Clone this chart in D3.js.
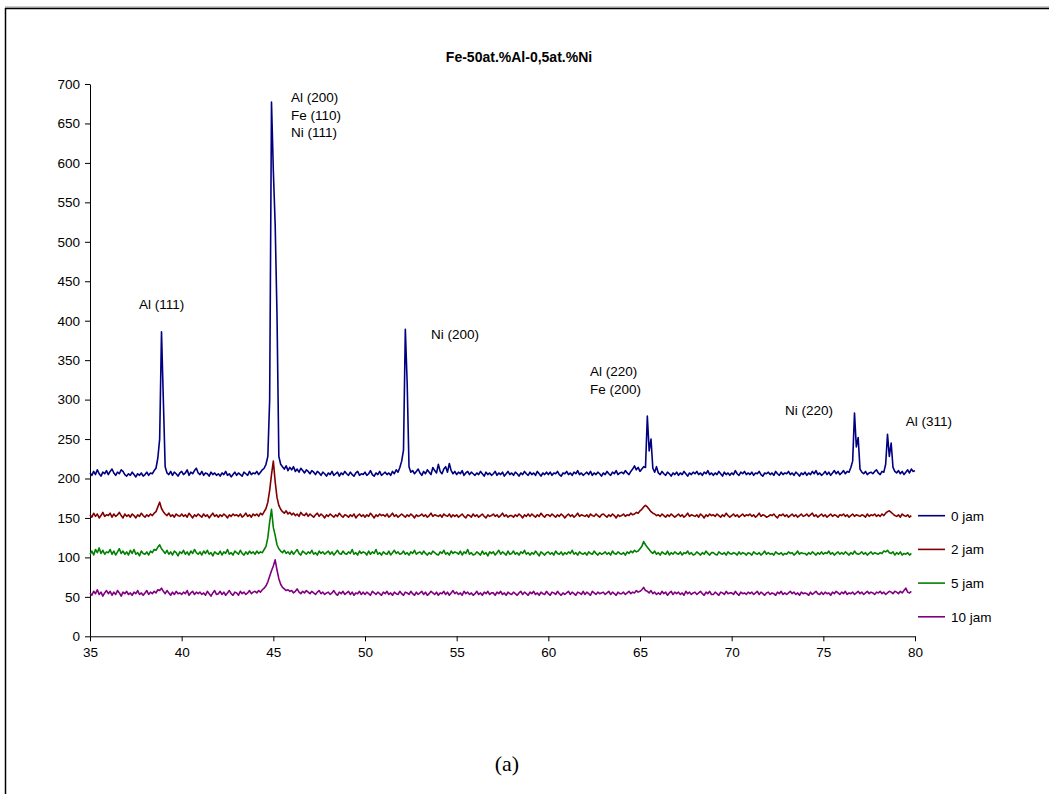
<!DOCTYPE html>
<html>
<head>
<meta charset="utf-8">
<script src="https://cdn.jsdelivr.net/npm/d3@7"></script>
<style>
body{margin:0;background:#fff;}
</style>
</head>
<body>
<script>
// ---- data (2-theta grid 35.0 .. 80.0, step 0.1) ----
const thetaStart = 35, thetaStep = 0.1;
const xTicks = [35,40,45,50,55,60,65,70,75,80];
const yTicks = [0,50,100,150,200,250,300,350,400,450,500,550,600,650,700];
const seriesNames = ["0 jam","2 jam","5 jam","10 jam"];
const seriesColors = ["#000080","#800000","#008000","#800080"];
const chartTitle = "Fe-50at.%Al-0,5at.%Ni";
const peakLabels = [
  {t:"Al (111)", x:37.67, y:415},
  {t:"Al (200)", x:45.96, y:677},
  {t:"Fe (110)", x:45.96, y:655},
  {t:"Ni (111)", x:45.96, y:633},
  {t:"Ni (200)", x:53.6, y:377},
  {t:"Al (220)", x:62.27, y:330},
  {t:"Fe (200)", x:62.27, y:307},
  {t:"Ni (220)", x:72.91, y:280},
  {t:"Al (311)", x:79.5, y:267}
];

const jam0 = [
207,204,209,205,211,206,203,208,206,210,
205,209,212,207,204,208,206,211,209,205,
203,206,204,208,205,202,206,204,207,203,
205,208,204,207,206,210,213,226,250,386,
300,215,207,205,209,204,208,206,203,207,
209,205,207,211,204,208,206,210,213,207,
205,209,204,207,206,203,208,205,207,204,
206,203,207,205,209,204,206,202,205,208,
204,207,205,203,208,206,204,209,205,207,
206,209,205,208,211,213,218,228,300,677,
590,522,408,228,218,215,212,216,210,214,
211,215,209,212,208,213,210,207,211,209,
206,210,208,205,209,207,204,208,206,203,
207,205,209,204,206,208,203,207,205,209,
206,204,208,205,203,207,209,204,206,205,
208,204,206,210,205,203,207,205,209,204,
206,208,205,207,204,209,206,211,208,214,
222,236,389,321,215,208,210,206,209,212,
207,204,209,206,211,208,205,214,210,207,
218,209,206,212,215,208,219,210,206,209,
205,208,206,210,204,207,209,205,208,206,
204,207,205,209,206,203,208,205,207,204,
206,209,204,207,205,208,203,206,209,205,
207,204,208,206,203,207,205,209,206,204,
208,205,207,204,209,206,203,207,205,208,
205,208,204,207,206,209,205,203,207,206,
209,205,207,204,208,206,210,205,207,204,
206,208,205,209,204,207,205,208,206,203,
207,205,209,206,204,208,206,210,205,207,
208,206,210,207,205,209,212,216,211,214,
209,212,215,214,279,235,250,213,208,215,
207,205,209,206,204,208,206,203,207,205,
208,204,207,205,209,206,203,207,205,208,
206,209,205,207,204,208,206,210,205,207,
204,207,205,209,206,203,208,205,207,204,
207,205,210,206,204,208,206,209,205,207,
205,208,204,207,206,209,205,203,207,206,
208,205,207,204,209,206,204,208,205,207,
206,209,205,207,204,208,206,203,207,205,
208,204,207,205,209,206,210,205,207,204,
206,209,205,208,204,207,210,206,209,205,
207,210,206,209,208,214,222,283,240,252,
212,208,206,209,205,207,208,206,209,211,
207,205,209,208,218,256,228,245,214,209,
207,210,206,209,205,208,211,207,212,209,
210];

const jam2 = [
154,151,156,152,155,150,153,157,152,154,
153,156,151,155,152,154,157,153,150,155,
152,154,151,155,153,150,154,152,156,153,
151,154,152,155,153,156,158,164,170,162,
158,155,153,156,152,154,151,155,153,152,
155,152,154,151,156,153,150,154,152,155,
153,151,155,152,154,150,153,156,152,154,
151,154,152,155,153,150,154,152,155,153,
154,152,155,151,153,156,152,154,151,155,
153,155,152,156,154,158,162,170,185,205,
222,196,176,166,161,158,156,159,155,157,
154,156,153,155,152,157,154,153,156,152,
155,153,151,154,156,152,155,153,150,154,
152,155,153,151,154,152,156,153,151,154,
153,151,154,152,155,150,153,155,152,154,
151,154,152,156,153,150,154,152,155,153,
154,152,155,151,153,156,152,154,151,153,
155,153,151,154,152,155,153,150,154,152,
153,155,152,154,151,153,156,152,154,153,
152,154,151,155,153,152,155,151,154,152,
154,151,153,155,152,150,154,153,151,155,
152,154,151,153,155,152,150,154,152,153,
155,152,154,151,153,156,152,154,151,153,
153,151,154,152,155,153,150,154,152,155,
152,155,153,151,154,152,156,153,151,154,
154,152,155,153,151,154,152,155,153,150,
153,155,152,154,151,153,156,152,154,153,
152,154,151,155,153,152,155,153,151,154,
155,153,151,154,152,155,153,150,154,152,
153,155,152,154,153,156,154,155,157,156,
159,161,164,166,164,161,158,156,155,153,
154,152,155,153,151,154,152,155,153,151,
153,155,152,154,151,153,156,152,154,153,
152,154,151,155,153,150,154,152,155,153,
154,152,155,153,151,154,152,156,153,151,
153,155,152,154,151,153,155,152,154,153,
155,152,154,151,153,156,152,154,153,151,
152,154,153,155,152,150,154,153,155,152,
154,151,153,155,152,154,151,153,155,152,
153,155,152,154,156,152,154,151,153,155,
152,154,151,153,155,152,154,153,151,154,
153,155,152,154,151,153,155,152,154,153,
152,154,153,151,155,152,154,153,155,152,
154,152,155,153,156,158,159,157,155,153,
152,154,151,155,153,152,154,151,153,null,
null];

const jam5 = [
104,108,103,110,106,112,105,109,104,107,
106,110,104,108,103,107,111,105,108,104,
107,103,109,105,110,104,106,102,108,105,
104,107,103,108,106,110,109,113,116,111,
108,105,109,104,107,103,108,106,102,107,
105,109,104,107,103,108,105,110,106,104,
107,103,108,105,109,104,106,102,107,105,
104,108,103,107,105,110,104,106,103,108,
106,104,109,105,103,107,104,108,105,107,
104,108,105,107,106,110,114,125,145,161,
138,128,116,111,108,106,109,105,107,104,
108,104,107,110,105,103,108,106,104,107,
105,109,104,106,103,108,105,107,104,106,
108,104,107,103,106,109,105,104,108,105,
104,107,105,110,104,106,103,108,105,107,
106,103,108,104,107,105,110,104,106,103,
107,105,104,108,103,106,109,105,107,104,
105,108,104,106,103,107,105,109,104,106,
107,104,108,105,103,106,104,108,106,104,
103,107,105,109,104,106,103,108,105,107,
106,104,108,103,107,105,110,104,106,103,
104,107,105,103,108,104,106,102,107,105,
107,103,106,109,104,107,105,103,108,104,
105,108,104,106,103,107,105,109,104,106,
103,106,104,108,105,102,107,105,103,106,
107,104,106,103,108,105,104,107,103,106,
104,107,105,109,104,106,103,107,105,104,
106,103,107,105,104,108,105,103,106,104,
105,107,104,106,103,108,105,104,107,105,
104,106,103,107,105,108,106,109,107,108,
111,114,120,116,113,110,107,105,108,104,
106,103,107,105,104,108,103,106,104,107,
105,104,107,103,106,105,108,104,106,103,
104,107,105,103,106,104,108,105,103,106,
106,104,103,107,105,104,106,103,107,105,
104,106,105,103,107,104,106,105,103,106,
105,103,107,105,104,106,103,105,108,104,
106,104,105,103,107,105,104,106,103,105,
104,107,105,106,103,105,108,104,106,105,
105,103,106,104,107,105,103,106,104,107,
104,106,105,108,104,106,103,105,107,104,
106,104,107,105,103,106,104,108,105,104,
105,107,104,106,103,105,107,104,106,105,
104,106,105,108,107,109,106,105,107,103,
106,104,107,103,105,104,106,103,105,null,
null];

const jam10 = [
55,52,57,54,59,53,56,51,55,58,
54,57,52,56,53,58,55,51,56,54,
57,53,55,52,56,54,58,53,55,52,
55,58,53,56,54,57,55,59,58,61,
57,54,58,55,52,56,53,57,54,55,
53,56,54,58,52,55,57,53,56,54,
56,53,55,52,57,54,51,55,58,53,
54,57,53,56,52,55,58,54,52,56,
55,52,57,54,56,53,55,58,54,56,
57,55,58,56,59,61,64,69,76,83,
89,97,84,73,66,62,60,58,59,57,
58,55,57,60,56,54,57,55,58,56,
54,57,55,53,56,58,54,56,53,55,
56,53,55,58,54,52,56,54,57,53,
55,57,53,56,52,55,54,57,53,56,
53,56,54,52,57,55,53,56,54,52,
56,54,57,53,55,52,56,54,53,57,
54,52,56,55,53,57,54,52,56,53,
55,57,53,56,52,54,57,55,53,56,
52,55,54,57,53,56,52,55,58,54,
56,53,55,52,57,54,56,53,55,52,
54,57,53,55,52,56,54,57,53,55,
55,52,56,54,57,53,55,52,56,54,
53,56,54,52,55,57,53,56,54,52,
56,54,57,53,55,52,56,54,53,57,
54,52,56,55,53,57,54,52,55,53,
55,57,53,56,54,52,56,55,53,57,
53,56,54,52,57,55,53,56,54,55,
56,53,55,57,53,56,54,52,56,54,
54,56,53,55,57,54,56,55,58,56,
57,59,62,58,57,55,58,54,56,53,
55,53,57,54,56,52,55,57,53,56,
54,56,53,55,52,57,54,56,53,55,
56,53,55,57,54,52,56,54,57,53,
53,56,54,52,56,55,53,57,54,55,
55,53,57,54,52,56,54,55,53,56,
54,56,53,55,57,53,56,54,52,55,
56,53,55,54,52,56,54,57,53,55,
53,55,57,54,56,53,55,52,56,54,
55,54,52,56,53,55,57,54,53,56,
53,56,54,55,52,56,54,57,55,53,
56,54,57,53,55,54,56,53,55,57,
54,56,53,55,57,54,56,55,53,56,
55,57,54,56,53,55,57,56,54,57,
56,54,57,55,58,61,56,55,57,null,
null];

const allSeries = [jam0, jam2, jam5, jam10];

// ---- drawing ----
const W = 1049, H = 794;
const sans = "'Liberation Sans',Arial,sans-serif";
const svg = d3.select("body").append("svg").attr("width", W).attr("height", H);

// outer frame
svg.append("line").attr("x1",5).attr("x2",W).attr("y1",7).attr("y2",7).attr("stroke","#999").attr("stroke-width",1);
svg.append("line").attr("x1",5).attr("x2",W).attr("y1",8.5).attr("y2",8.5).attr("stroke","#000").attr("stroke-width",1.5);
svg.append("line").attr("x1",5.5).attr("x2",5.5).attr("y1",8).attr("y2",H).attr("stroke","#000").attr("stroke-width",1.5);

const x = d3.scaleLinear().domain([35,80]).range([90,915]);
const y = d3.scaleLinear().domain([0,700]).range([636.3,84]);

// title
svg.append("text").attr("x",519).attr("y",62).attr("text-anchor","middle")
  .style("font-family",sans).style("font-size","14px").style("font-weight","bold")
  .attr("fill","#000").text(chartTitle);

// axes
const yAxis = svg.append("g").attr("transform","translate(90,0)")
  .call(d3.axisLeft(y).tickValues(yTicks).tickSize(5).tickSizeOuter(0).tickPadding(5));
const xAxis = svg.append("g").attr("transform","translate(0,636.3)")
  .call(d3.axisBottom(x).tickValues(xTicks).tickSize(5).tickSizeOuter(0).tickPadding(6));
[yAxis, xAxis].forEach(g => {
  g.selectAll("path,line").attr("stroke","#000").attr("stroke-width",1);
  g.selectAll("text").attr("fill","#000")
    .style("font-family",sans).style("font-size","13.5px");
});

// series
const line = d3.line()
  .defined(d => d != null)
  .x((d,i) => x(thetaStart + i*thetaStep))
  .y(d => y(d));
allSeries.forEach((s, k) => {
  svg.append("path").datum(s)
    .attr("fill","none")
    .attr("stroke", seriesColors[k])
    .attr("stroke-width",1.6)
    .attr("stroke-linejoin","round")
    .attr("d", line);
});

// peak labels
svg.append("g").selectAll("text").data(peakLabels).join("text")
  .attr("x", d => x(d.x)).attr("y", d => y(d.y))
  .style("font-family",sans).style("font-size","13.5px")
  .attr("fill","#000").text(d => d.t);

// legend
const leg = svg.append("g").selectAll("g").data(seriesNames).join("g")
  .attr("transform",(d,i)=>`translate(918,${515.7 + i*33.7})`);
leg.append("line").attr("x1",0).attr("x2",27).attr("y1",0).attr("y2",0)
  .attr("stroke",(d,i)=>seriesColors[i]).attr("stroke-width",1.6);
leg.append("text").attr("x",33).attr("y",4.8)
  .style("font-family",sans).style("font-size","13.5px")
  .attr("fill","#000").text(d=>d);

// caption
svg.append("text").attr("x",507).attr("y",771).attr("text-anchor","middle")
  .style("font-family","'Liberation Serif','Times New Roman',serif")
  .style("font-size","22px").attr("fill","#000").text("(a)");
</script>
</body>
</html>
